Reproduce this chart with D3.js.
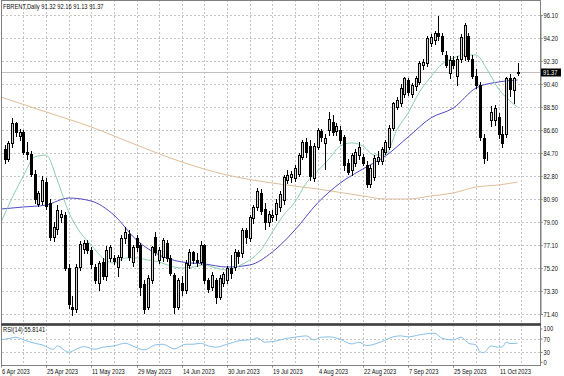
<!DOCTYPE html>
<html>
<head>
<meta charset="utf-8">
<script src="https://cdn.jsdelivr.net/npm/d3@7/dist/d3.min.js"></script>
<style>
  html, body { margin: 0; padding: 0; background: #ffffff; }
  svg { display: block; font-family: "Liberation Sans", Arial, sans-serif; }
</style>
</head>
<body>
<div id="chart"></div>
<script>
// chart text
const symbolTitle = 'FBRENT,Daily';
const rsiTitle = 'RSI(14) 55.8141';

// daily bars, 10 Apr .. 18 Oct 2023 (index 0 .. 136)
const opens = [
  85.0, 84.2, 85.5, 87.2, 86.1, 86.4, 84.8, 84.6, 83.0, 80.5,
  80.7, 82.3, 80.6, 77.8, 78.4, 79.4, 79.6, 75.2, 72.0, 71.8,
  75.3, 76.8, 77.3, 76.7, 75.3, 74.0, 75.7, 74.5, 76.0, 76.0,
  75.3, 76.1, 77.7, 78.0, 75.7, 77.7, 77.1, 73.9, 72.0, 74.2,
  77.8, 75.9, 76.1, 77.3, 76.0, 74.6, 72.0, 74.0, 73.4, 75.45,
  76.5, 75.9, 75.7, 77.1, 74.2, 73.6, 74.2, 72.8, 74.0, 74.2,
  75.2, 75.3, 76.5, 76.4, 78.3, 77.7, 79.3, 80.2, 81.4, 80.1,
  79.0, 79.4, 79.7, 80.2, 80.8, 82.5, 82.7, 82.6, 83.0, 84.4,
  85.6, 85.3, 82.6, 85.2, 86.5, 85.5, 86.6, 87.3, 86.5, 86.6,
  86.0, 83.9, 83.3, 83.9, 84.5, 84.4, 83.7, 82.1, 82.7, 84.0,
  84.0, 84.8, 85.2, 86.8, 88.5, 88.8, 89.6, 90.7, 89.6, 90.2,
  90.6, 92.0, 92.1, 93.8, 94.0, 94.6, 94.4, 92.8, 91.3, 92.4,
  91.1, 92.5, 92.7, 94.4, 92.5, 91.1, 90.3, 85.9, 84.5, 87.4,
  87.4, 87.7, 86.3, 86.3, 90.9, 89.9, 91.32
];
const highs = [
  85.4, 85.7, 87.6, 87.3, 86.7, 86.6, 85.6, 84.9, 83.3, 81.6,
  82.8, 82.6, 80.9, 79.0, 80.4, 80.0, 79.8, 75.5, 72.9, 75.5,
  77.4, 77.5, 77.5, 76.9, 75.5, 75.8, 76.0, 77.0, 77.1, 76.3,
  76.3, 77.9, 78.6, 78.3, 77.1, 77.9, 77.3, 74.2, 74.6, 77.0,
  78.2, 76.9, 77.7, 77.5, 76.3, 74.8, 74.4, 74.5, 75.9, 76.8,
  76.6, 76.4, 77.4, 77.2, 74.4, 74.9, 74.4, 74.6, 74.9, 75.4,
  76.3, 76.8, 76.7, 78.5, 78.5, 79.6, 80.4, 81.8, 81.7, 80.6,
  79.9, 80.0, 80.9, 81.6, 82.9, 83.3, 83.2, 83.7, 84.7, 85.8,
  85.9, 85.8, 85.5, 86.8, 86.7, 86.3, 88.1, 87.8, 87.2, 86.9,
  86.2, 84.2, 84.7, 85.0, 85.6, 84.6, 84.0, 83.7, 84.5, 84.9,
  85.2, 85.8, 87.0, 88.9, 89.3, 90.4, 91.0, 90.9, 90.5, 91.1,
  92.3, 92.5, 94.4, 94.5, 94.8, 96.0, 94.6, 93.1, 92.7, 92.7,
  92.7, 94.5, 95.4, 94.6, 92.8, 91.6, 90.6, 86.3, 84.8, 88.6,
  88.7, 88.0, 86.9, 91.0, 91.2, 91.0, 92.16
];
const lows = [
  83.9, 84.0, 85.2, 86.1, 85.8, 84.6, 84.2, 82.8, 80.6, 80.3,
  80.5, 80.1, 77.5, 77.4, 78.0, 79.0, 75.0, 71.9, 71.3, 71.6,
  75.0, 76.4, 76.4, 75.2, 74.0, 73.4, 74.3, 74.2, 75.8, 75.5,
  74.5, 75.9, 77.3, 75.9, 75.4, 76.6, 73.0, 71.5, 71.8, 74.0,
  76.3, 75.6, 75.8, 75.8, 74.6, 71.5, 71.8, 73.0, 73.1, 75.2,
  75.6, 75.4, 75.5, 74.0, 73.2, 73.4, 72.3, 72.6, 73.7, 74.0,
  74.4, 75.0, 75.6, 76.1, 77.3, 77.4, 78.9, 80.0, 79.7, 78.4,
  78.7, 79.1, 79.2, 79.9, 80.5, 82.2, 82.3, 82.4, 82.8, 84.2,
  84.4, 82.5, 82.4, 85.0, 85.7, 83.4, 86.2, 86.2, 86.2, 85.5,
  83.3, 83.0, 82.9, 83.6, 84.2, 83.7, 81.9, 81.9, 82.5, 83.8,
  83.8, 84.6, 85.0, 86.6, 88.3, 88.6, 89.3, 89.5, 89.3, 89.9,
  90.4, 91.6, 91.9, 93.5, 93.7, 94.0, 92.9, 91.8, 90.9, 91.7,
  90.3, 92.2, 92.4, 92.3, 90.9, 90.1, 85.8, 83.9, 84.1, 86.9,
  87.0, 85.9, 85.2, 86.0, 89.4, 88.8, 91.13
];
const closes = [
  84.2, 85.5, 87.2, 86.4, 86.4, 84.8, 84.6, 83.0, 80.9, 81.4,
  82.5, 80.3, 77.8, 78.6, 80.0, 79.7, 75.2, 72.2, 71.8, 75.3,
  77.2, 77.3, 76.7, 75.5, 74.2, 75.6, 74.5, 76.7, 76.9, 75.8,
  76.1, 77.7, 78.2, 76.1, 76.9, 76.9, 73.6, 71.8, 74.4, 76.9,
  76.5, 76.7, 77.5, 76.0, 74.8, 72.0, 74.2, 73.4, 75.6, 76.5,
  75.9, 75.7, 77.1, 74.2, 73.5, 74.6, 72.8, 74.4, 74.7, 75.2,
  74.8, 76.5, 76.2, 78.3, 77.8, 79.4, 80.2, 81.6, 79.9, 79.0,
  79.7, 79.6, 80.6, 81.3, 82.7, 82.9, 83.0, 83.5, 84.5, 85.6,
  84.8, 82.8, 85.3, 86.6, 86.0, 85.9, 87.5, 86.4, 86.9, 85.8,
  83.7, 83.1, 84.5, 84.8, 85.2, 83.9, 82.1, 83.5, 84.3, 84.4,
  85.0, 85.6, 86.8, 88.8, 89.1, 90.1, 90.9, 89.7, 90.3, 90.9,
  92.1, 92.2, 94.2, 94.3, 94.6, 94.4, 93.1, 92.0, 92.4, 92.0,
  92.5, 94.3, 95.3, 92.5, 91.1, 90.3, 86.05, 84.3, 84.5, 88.1,
  88.4, 86.3, 85.5, 90.9, 90.0, 90.9, 91.37
];

// moving averages: [bar index, price]
const maFast = [
  [-1, 78.92], [2, 80.98], [5, 82.80], [8, 84.37], [11, 84.53], [14, 82.47], [17, 79.83],
  [20, 78.17], [23, 77.10], [26, 76.03], [29, 75.61], [32, 76.03], [35, 76.03], [38, 75.86],
  [41, 75.70], [44, 75.36], [47, 75.20], [50, 75.28], [53, 75.45], [56, 75.20], [59, 75.03],
  [62, 75.36], [65, 75.86], [68, 76.69], [71, 78.17], [74, 79.58], [77, 80.65], [80, 82.22],
  [83, 83.21], [86, 84.20], [89, 85.28], [92, 85.53], [95, 85.28], [98, 84.53], [101, 84.53],
  [104, 86.60], [107, 88.00], [110, 89.74], [113, 90.98], [116, 92.05], [119, 92.55],
  [122, 92.80], [125, 92.80], [128, 91.56], [131, 89.99], [134, 89.00], [136, 88.50]
];
const maMid = [
  [-1, 80.07], [5, 80.24], [11, 80.40], [17, 80.98], [23, 80.73], [29, 79.58], [35, 77.51],
  [41, 76.27], [47, 75.70], [53, 75.53], [59, 75.28], [65, 75.45], [71, 76.52], [77, 78.34],
  [83, 80.57], [89, 82.22], [95, 83.38], [101, 84.45], [107, 86.02], [113, 87.59],
  [119, 88.42], [125, 90.07], [131, 90.57], [136, 90.73]
];
const maSlow = [
  [-1, 89.33], [11, 88.09], [23, 86.85], [35, 85.36], [47, 83.96], [59, 82.88], [71, 82.22],
  [83, 81.73], [95, 81.15], [101, 80.90], [107, 80.90], [113, 81.15], [119, 81.40],
  [125, 81.89], [131, 82.06], [136, 82.30]
];

// rsi(14): [bar index, value]
const rsiPoints = [
  [-1, 66], [2, 72], [3, 74], [5, 66], [8, 56], [10, 51], [13, 38], [14, 48], [17, 29],
  [19, 38], [21, 46], [24, 38], [26, 44], [29, 48], [32, 56], [34, 48], [37, 36], [40, 51],
  [42, 53], [45, 39], [48, 53], [50, 53], [52, 56], [54, 48], [56, 44], [59, 53], [62, 63],
  [66, 68], [67, 72], [69, 59], [72, 63], [75, 71], [77, 74], [80, 78], [82, 66], [84, 74],
  [86, 75], [89, 68], [92, 54], [94, 59], [96, 49], [100, 61], [103, 75], [105, 78],
  [107, 75], [110, 81], [114, 86], [116, 71], [119, 66], [121, 74], [123, 56], [125, 51],
  [126, 31], [127, 28], [129, 48], [131, 44], [132, 45], [133, 59], [134, 55], [136, 56]
];

// axes
const priceTicks = [96.10, 94.20, 92.30, 90.40, 88.50, 86.60, 84.70, 82.80, 80.90, 79.00, 77.10, 75.20, 73.30, 71.40];
const rsiTicks = [100, 70, 30, 0];
const dateTickIndex = [-1, 11, 23, 35, 47, 59, 71, 83, 95, 107, 119, 131];
const dateTickLabels = ['6 Apr 2023', '25 Apr 2023', '11 May 2023', '29 May 2023', '14 Jun 2023', '30 Jun 2023',
  '19 Jul 2023', '4 Aug 2023', '22 Aug 2023', '7 Sep 2023', '25 Sep 2023', '11 Oct 2023'];


const width = 564;
const height = 376;
const main = { left: 1, right: 540, top: 0, bottom: 324 };
const sub = { top: 325, bottom: 365 };

const fontSize = 7;
const squeeze = 0.82;
const textColor = '#101010';

const svg = d3.select('#chart')
  .append('svg')
  .attr('width', width)
  .attr('height', height);

// scales
const xScale = d3.scaleLinear().domain([0, 136]).range([4.5, 517.5]);
const yScale = d3.scaleLinear().domain([71.4, 96.1]).range([314, 15]);
const rsiScale = d3.scaleLinear().domain([0, 100]).range([362, 328.5]);

const px = v => Math.round(v) + 0.5;

// narrow the text like the terminal font
function squeeze_text(selection) {
  selection.each(function () {
    const w = this.getComputedTextLength();
    d3.select(this).attr('textLength', w * squeeze).attr('lengthAdjust', 'spacingAndGlyphs');
  });
}

// clip paths
const defs = svg.append('defs');
defs.append('clipPath').attr('id', 'clip-main')
  .append('rect')
  .attr('x', main.left + 1).attr('y', main.top)
  .attr('width', main.right - main.left - 1).attr('height', main.bottom - main.top);
defs.append('clipPath').attr('id', 'clip-sub')
  .append('rect')
  .attr('x', main.left + 1).attr('y', sub.top + 1)
  .attr('width', main.right - main.left - 1).attr('height', sub.bottom - sub.top - 1);

// vertical grid, every 6 bars
const gridIndex = d3.range(-1, 140, 6);
const gridGroup = svg.append('g').attr('class', 'grid');
gridGroup.selectAll('line.vgrid')
  .data(gridIndex)
  .join('line')
  .attr('x1', d => px(xScale(d)))
  .attr('x2', d => px(xScale(d)))
  .attr('y1', main.top)
  .attr('y2', main.bottom)
  .attr('stroke', '#c4c4c4')
  .attr('stroke-dasharray', '2,2');
gridGroup.selectAll('line.vgrid-sub')
  .data(gridIndex)
  .join('line')
  .attr('x1', d => px(xScale(d)))
  .attr('x2', d => px(xScale(d)))
  .attr('y1', sub.top)
  .attr('y2', sub.bottom)
  .attr('stroke', '#c4c4c4')
  .attr('stroke-dasharray', '2,2');

// horizontal grid from the price axis
const priceGrid = svg.append('g')
  .attr('transform', `translate(${main.right},0)`)
  .call(d3.axisLeft(yScale).tickValues(priceTicks).tickSize(main.right - main.left).tickFormat(''));
priceGrid.select('.domain').remove();
priceGrid.selectAll('.tick').attr('transform', d => `translate(0,${px(yScale(d))})`);
priceGrid.selectAll('line').attr('stroke', '#c4c4c4').attr('stroke-dasharray', '2,2');

const rsiGrid = svg.append('g')
  .attr('transform', `translate(${main.right},0)`)
  .call(d3.axisLeft(rsiScale).tickValues([70, 30]).tickSize(main.right - main.left).tickFormat(''));
rsiGrid.select('.domain').remove();
rsiGrid.selectAll('.tick').attr('transform', d => `translate(0,${px(rsiScale(d))})`);
rsiGrid.selectAll('line').attr('stroke', '#c4c4c4').attr('stroke-dasharray', '2,2');

// bid line
svg.append('line')
  .attr('x1', main.left).attr('x2', main.right)
  .attr('y1', px(yScale(closes[closes.length - 1])))
  .attr('y2', px(yScale(closes[closes.length - 1])))
  .attr('stroke', '#c0c0c0');

// moving averages
const plot = svg.append('g').attr('clip-path', 'url(#clip-main)');
const maLine = d3.line()
  .x(d => xScale(d[0]))
  .y(d => yScale(d[1]))
  .curve(d3.curveMonotoneX);

plot.append('path').datum(maSlow)
  .attr('fill', 'none').attr('stroke', '#e0bd98').attr('stroke-width', 1).attr('d', maLine);
plot.append('path').datum(maMid)
  .attr('fill', 'none').attr('stroke', '#4e4ac4').attr('stroke-width', 1).attr('d', maLine);
plot.append('path').datum(maFast)
  .attr('fill', 'none').attr('stroke', '#8ccfae').attr('stroke-width', 1).attr('d', maLine);

// candles
const bars = d3.range(closes.length);
const candle = plot.selectAll('g.candle')
  .data(bars)
  .join('g')
  .attr('class', 'candle');

candle.append('line')
  .attr('x1', i => px(xScale(i)))
  .attr('x2', i => px(xScale(i)))
  .attr('y1', i => Math.round(yScale(highs[i])))
  .attr('y2', i => Math.round(yScale(lows[i])) + 1)
  .attr('stroke', '#000');

candle.append('rect')
  .attr('x', i => Math.round(xScale(i)) - 0.5)
  .attr('y', i => px(yScale(Math.max(opens[i], closes[i]))))
  .attr('width', 2)
  .attr('height', i => Math.max(0, Math.round(yScale(Math.min(opens[i], closes[i]))) - Math.round(yScale(Math.max(opens[i], closes[i])))))
  .attr('fill', i => closes[i] >= opens[i] ? '#d4d4d4' : '#000000')
  .attr('stroke', '#000');

// rsi line
svg.append('path')
  .datum(rsiPoints)
  .attr('clip-path', 'url(#clip-sub)')
  .attr('fill', 'none')
  .attr('stroke', '#86bfe9')
  .attr('stroke-width', 1)
  .attr('d', d3.line().x(d => xScale(d[0])).y(d => rsiScale(d[1])).curve(d3.curveMonotoneX));

// panel frames
svg.append('rect')
  .attr('x', main.left + 0.5).attr('y', main.top + 0.5)
  .attr('width', main.right - main.left).attr('height', main.bottom - main.top - 1)
  .attr('fill', 'none').attr('stroke', '#808080');
svg.append('rect')
  .attr('x', main.left + 0.5).attr('y', sub.top + 0.5)
  .attr('width', main.right - main.left).attr('height', sub.bottom - sub.top)
  .attr('fill', 'none').attr('stroke', '#808080');
svg.append('line')
  .attr('x1', main.left).attr('x2', main.right + 1)
  .attr('y1', main.bottom + 0.5).attr('y2', main.bottom + 0.5)
  .attr('stroke', '#404040').attr('stroke-width', 2);

// price axis
const priceAxis = svg.append('g')
  .attr('transform', `translate(${main.right + 0.5},0)`)
  .call(d3.axisRight(yScale).tickValues(priceTicks).tickSize(2).tickPadding(1).tickFormat(d3.format('.2f')));
priceAxis.select('.domain').attr('stroke', '#808080');
priceAxis.selectAll('.tick line').attr('stroke', '#808080');
priceAxis.selectAll('text')
  .attr('font-size', fontSize).attr('font-family', 'Liberation Sans, Arial, sans-serif')
  .attr('fill', textColor).attr('dy', '0.35em')
  .call(squeeze_text);

// rsi axis
const rsiAxis = svg.append('g')
  .attr('transform', `translate(${main.right + 0.5},0)`)
  .call(d3.axisRight(rsiScale).tickValues(rsiTicks).tickSize(2).tickPadding(1));
rsiAxis.select('.domain').remove();
rsiAxis.selectAll('.tick line').attr('stroke', '#808080');
rsiAxis.selectAll('text')
  .attr('font-size', fontSize).attr('font-family', 'Liberation Sans, Arial, sans-serif')
  .attr('fill', textColor).attr('dy', '0.35em')
  .call(squeeze_text);

// last price box
const lastY = yScale(closes[closes.length - 1]);
svg.append('rect')
  .attr('x', main.right + 1).attr('y', Math.round(lastY) - 3.5)
  .attr('width', 20).attr('height', 8)
  .attr('fill', '#000');
svg.append('text')
  .attr('x', main.right + 3).attr('y', lastY)
  .attr('dy', '0.35em')
  .attr('font-size', fontSize).attr('fill', '#ffffff')
  .text(d3.format('.2f')(closes[closes.length - 1]))
  .call(squeeze_text);

// date axis
const dateAxis = svg.append('g')
  .attr('transform', `translate(0,${sub.bottom + 0.5})`)
  .call(d3.axisBottom(xScale).tickValues(dateTickIndex).tickSize(2).tickPadding(1)
    .tickFormat((d, i) => dateTickLabels[i]));
dateAxis.select('.domain').remove();
dateAxis.selectAll('.tick').attr('transform', d => `translate(${px(xScale(d))},0)`);
dateAxis.selectAll('.tick line').attr('stroke', '#808080');
dateAxis.selectAll('text')
  .attr('text-anchor', 'start').attr('x', 0.5).attr('dy', '0.75em')
  .attr('font-size', fontSize).attr('font-family', 'Liberation Sans, Arial, sans-serif')
  .attr('fill', textColor)
  .call(squeeze_text);

// titles
const lastBar = closes.length - 1;
svg.append('text')
  .attr('x', 3).attr('y', 8.5)
  .attr('font-size', fontSize).attr('fill', textColor)
  .text(`${symbolTitle}  ${[opens[lastBar], highs[lastBar], lows[lastBar], closes[lastBar]].map(d3.format('.2f')).join(' ')}`)
  .call(squeeze_text);
svg.append('text')
  .attr('x', 3).attr('y', sub.top + 7)
  .attr('font-size', fontSize).attr('fill', textColor)
  .text(rsiTitle)
  .call(squeeze_text);
</script>
</body>
</html>
